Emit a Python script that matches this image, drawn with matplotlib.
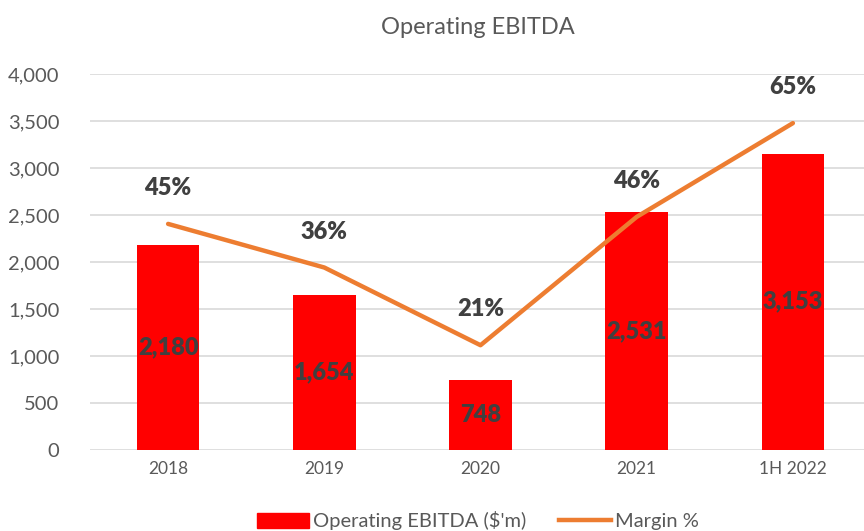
import matplotlib.pyplot as plt
from matplotlib.patches import Patch
from matplotlib.lines import Line2D

plt.rcParams['font.family'] = ['Lato', 'DejaVu Sans']

anios = ['2018', '2019', '2020', '2021', '1H 2022']
ebitda = [2180, 1654, 748, 2531, 3153]
margen = [45.1, 36.4, 20.9, 46.5, 65.2]

rojo = '#FF0000'
naranja = '#ED7D31'
gris = '#595959'
texto = '#404040'

fig = plt.figure(figsize=(8.64, 5.31), dpi=100)
ax = fig.add_axes([90/864, 81/531, 781/864, 376/531])
x = list(range(len(anios)))

ax.bar(x, ebitda, width=0.4, color=rojo, zorder=2)
ax.set_ylim(0, 4000)
ax.set_xlim(-0.5, 4.5)
ax.set_yticks(range(0, 4001, 500))
ax.set_yticklabels([f'{v:,}' for v in range(0, 4001, 500)], fontsize=14.5, color=gris)
ax.set_xticks(x)
ax.set_xticklabels(anios, fontsize=12.5, color=gris)
ax.tick_params(length=0, pad=8)
ax.tick_params(axis='y', pad=22)
ax.grid(axis='y', color='#D9D9D9', linewidth=1.2, zorder=0)
for s in ax.spines.values():
    s.set_visible(False)

for i, v in zip(x, ebitda):
    ax.text(i, v / 2, f'{v:,}', ha='center', va='center', fontsize=17,
            fontweight='heavy', color=texto, zorder=4)

ax2 = ax.twinx()
ax2.plot(x, margen, color=naranja, linewidth=3.2, solid_capstyle='round', zorder=3)
ax2.set_ylim(0, 75)
ax2.set_yticks([])
for s in ax2.spines.values():
    s.set_visible(False)
for i, m in zip(x, margen):
    ax2.annotate(f'{m:.0f}%', (i, m), xytext=(0, 18), textcoords='offset points',
                 ha='center', va='bottom', fontsize=17, fontweight='heavy', color=texto)

fig.text(478/864, 1 - 27/531, 'Operating EBITDA', ha='center', va='center',
         fontsize=17, color=gris)

handles = [Patch(color=rojo), Line2D([0], [0], color=naranja, linewidth=3.2)]
fig.legend(handles, ["Operating EBITDA ($'m)", 'Margin %'], loc='center',
           bbox_to_anchor=(478/864, 1 - 521/531), ncol=2, frameon=False,
           fontsize=14.5, labelcolor=gris, handlelength=2.6, handleheight=0.8,
           handletextpad=0.2, columnspacing=1.6)

fig.savefig('out.png', dpi=100)
